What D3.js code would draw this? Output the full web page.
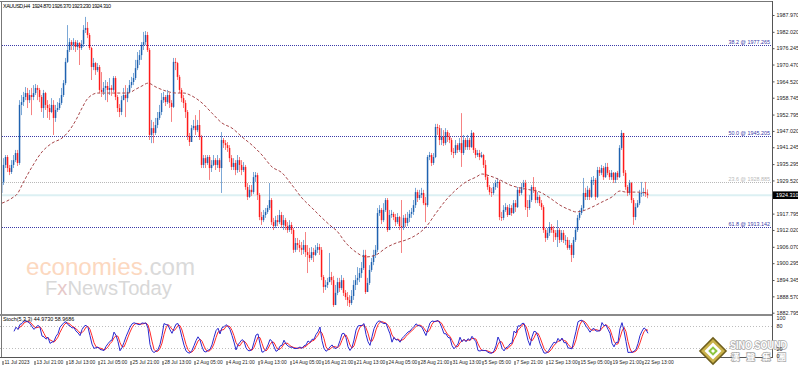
<!DOCTYPE html>
<html>
<head>
<meta charset="utf-8">
<script src="https://cdnjs.cloudflare.com/ajax/libs/d3/7.8.5/d3.min.js"></script>
<style>
  body { margin: 0; background: #fff; }
  svg { display: block; font-family: "Liberation Sans", Arial, sans-serif; }
</style>
</head>
<body>
<svg width="798" height="372"></svg>
<script>
// ---- data (XAUUSD H4) ----
const headerText = 'XAUUSD,H4  1924.870 1926.370 1923.230 1924.310';
const stochText = 'Stoch(5,3,3) 44.9730 58.9686';
const firstOpen = 1925.1;

const closes = [1929.0,1935.0,1937.8,1933.9,1932.5,1935.0,1936.7,1939.2,1935.7,1956.2,
1957.2,1959.0,1960.4,1957.9,1959.7,1959.0,1960.4,1962.2,1961.5,1959.0,
1955.1,1960.4,1956.2,1955.1,1953.7,1956.2,1951.6,1954.4,1955.1,1956.9,
1959.7,1963.9,1971.4,1975.6,1978.4,1977.4,1978.4,1976.7,1978.1,1976.3,
1977.7,1982.7,1983.4,1980.9,1976.3,1969.6,1971.0,1968.5,1969.6,1961.5,
1960.8,1962.2,1962.9,1961.5,1962.2,1961.5,1965.7,1959.0,1955.1,1953.7,
1957.9,1959.7,1958.6,1960.8,1963.2,1964.3,1965.7,1969.2,1972.1,1973.8,
1977.4,1978.4,1980.9,1975.6,1945.6,1948.0,1946.3,1949.1,1951.6,1953.7,
1957.9,1959.0,1957.2,1959.7,1956.9,1955.5,1971.4,1971.0,1966.1,1961.5,
1958.6,1956.9,1953.7,1945.2,1943.1,1948.0,1948.8,1947.3,1949.1,1944.9,
1935.0,1937.4,1935.7,1937.8,1933.9,1935.0,1936.7,1935.0,1936.7,1933.9,
1943.8,1942.7,1942.0,1941.0,1937.4,1934.3,1935.7,1933.2,1936.7,1935.0,
1933.2,1934.3,1927.2,1923.7,1926.2,1925.4,1930.7,1931.4,1924.4,1916.6,
1915.5,1917.3,1918.4,1919.8,1922.6,1914.8,1913.4,1915.5,1914.8,1917.3,
1913.8,1915.5,1913.4,1912.0,1913.8,1912.0,1905.0,1907.4,1906.7,1905.7,
1905.0,1906.7,1904.2,1903.2,1902.1,1904.2,1903.2,1905.0,1906.0,1905.0,
1895.4,1891.9,1892.6,1893.6,1895.4,1894.3,1885.5,1889.8,1893.6,1891.5,
1894.3,1889.8,1888.3,1887.3,1886.2,1888.7,1892.6,1894.3,1895.1,1896.8,
1898.6,1903.2,1890.1,1893.3,1897.9,1900.7,1903.2,1905.0,1918.0,1919.1,
1915.5,1919.1,1922.6,1912.0,1917.3,1917.7,1916.6,1914.8,1916.6,1913.4,
1913.1,1916.3,1914.5,1916.3,1917.7,1918.4,1920.8,1925.4,1923.3,1924.4,
1925.1,1921.5,1920.8,1937.8,1938.5,1935.7,1937.8,1948.4,1948.0,1943.8,
1944.9,1942.7,1946.6,1944.9,1943.8,1939.6,1939.2,1942.0,1940.3,1942.7,
1939.2,1943.8,1941.3,1943.8,1941.3,1946.3,1940.3,1938.5,1939.2,1937.8,
1938.5,1935.0,1930.7,1927.2,1925.4,1925.1,1927.2,1928.6,1929.0,1916.6,
1916.3,1919.1,1920.1,1917.3,1919.8,1918.0,1921.5,1920.1,1926.2,1925.1,
1927.2,1928.6,1920.1,1919.8,1922.6,1927.2,1926.2,1922.6,1923.7,1921.5,
1920.1,1912.0,1909.2,1911.0,1913.1,1912.0,1911.0,1909.5,1912.0,1908.5,
1911.0,1908.5,1908.5,1905.7,1906.7,1903.2,1908.5,1912.0,1916.3,1918.0,
1919.8,1925.1,1923.7,1926.2,1923.7,1929.7,1929.7,1923.7,1933.2,1932.2,
1933.9,1930.7,1934.3,1932.2,1930.7,1932.2,1929.7,1932.2,1930.7,1941.0,
1946.3,1932.2,1927.2,1925.1,1928.6,1922.6,1916.6,1920.1,1921.5,1925.1,
1925.1,1925.4,1924.87,1924.31];

const highs = [1930.4,1937.4,1938.5,1938.5,1935.0,1936.7,1938.5,1940.3,1940.3,1957.9,
1959.7,1960.8,1962.5,1962.2,1961.5,1962.2,1963.2,1963.6,1963.2,1962.2,
1959.7,1961.5,1960.8,1957.9,1956.5,1958.6,1957.9,1956.2,1957.2,1958.6,
1962.2,1965.0,1972.8,1984.4,1979.8,1979.1,1979.8,1979.1,1979.1,1978.4,
1979.1,1984.4,1987.3,1985.5,1981.6,1976.7,1972.8,1971.4,1971.0,1970.3,
1967.8,1964.3,1965.0,1964.3,1965.7,1963.2,1966.4,1966.4,1959.7,1956.5,
1959.4,1962.2,1963.2,1962.2,1965.0,1966.1,1967.5,1972.1,1974.9,1975.6,
1978.4,1982.0,1982.3,1982.0,1976.3,1950.9,1950.2,1951.6,1953.7,1956.2,
1960.4,1960.8,1959.7,1961.5,1960.4,1957.9,1972.8,1972.8,1971.4,1966.8,
1962.2,1959.7,1957.9,1954.4,1946.3,1949.1,1950.9,1952.6,1950.9,1954.4,
1945.6,1938.5,1938.5,1938.5,1938.5,1936.7,1938.5,1937.4,1938.5,1937.4,
1946.6,1944.5,1943.8,1943.1,1942.0,1938.5,1937.4,1936.7,1938.5,1937.8,
1936.7,1936.0,1935.0,1928.6,1927.9,1927.9,1932.5,1932.5,1932.2,1925.1,
1918.4,1919.1,1919.8,1920.8,1928.6,1923.3,1916.3,1917.0,1917.3,1919.1,
1918.4,1917.3,1916.3,1914.8,1915.5,1914.8,1912.7,1909.2,1909.2,1908.5,
1907.8,1908.5,1911.3,1906.7,1905.7,1906.0,1905.7,1906.7,1907.4,1907.1,
1906.0,1896.1,1894.3,1895.1,1903.9,1897.2,1895.8,1892.6,1895.1,1895.1,
1896.1,1895.1,1890.8,1890.1,1889.0,1890.8,1894.3,1896.1,1898.9,1898.6,
1900.7,1905.0,1905.0,1895.1,1899.6,1902.1,1905.0,1906.7,1919.8,1920.8,
1919.8,1921.5,1923.3,1923.3,1919.1,1919.1,1918.4,1917.7,1918.0,1917.0,
1922.6,1917.3,1917.7,1918.4,1919.1,1919.8,1922.6,1926.9,1926.2,1926.2,
1926.9,1926.2,1923.7,1938.5,1939.6,1939.2,1939.2,1949.5,1949.5,1949.1,
1948.0,1947.3,1948.0,1947.3,1946.3,1944.5,1941.0,1943.8,1942.7,1944.5,
1953.3,1945.6,1944.5,1945.6,1944.5,1947.3,1946.6,1941.0,1940.3,1940.3,
1939.6,1938.9,1936.7,1931.4,1927.9,1926.9,1928.6,1929.7,1930.4,1929.7,
1918.4,1920.8,1921.5,1920.8,1921.2,1920.8,1922.6,1922.6,1927.2,1926.9,
1928.6,1929.7,1929.7,1922.6,1924.4,1927.9,1930.7,1927.2,1925.4,1924.4,
1922.6,1920.8,1912.7,1912.7,1914.8,1914.1,1913.4,1912.0,1915.5,1912.7,
1912.0,1912.0,1910.2,1909.5,1908.5,1907.4,1909.5,1913.1,1917.3,1919.1,
1920.8,1930.4,1926.9,1927.6,1926.9,1930.7,1931.1,1930.4,1934.3,1934.3,
1935.0,1934.6,1935.7,1935.7,1933.2,1933.2,1932.5,1932.5,1932.9,1942.0,
1947.3,1946.3,1933.2,1927.9,1929.7,1929.0,1923.3,1921.5,1922.6,1926.2,
1929.0,1926.9,1929.0,1926.37];

const lows = [1924.0,1927.9,1933.9,1932.5,1931.4,1931.8,1933.9,1936.0,1934.6,1935.0,
1952.6,1955.8,1957.9,1955.1,1956.9,1952.6,1957.9,1959.7,1957.9,1957.2,
1953.7,1951.6,1954.4,1951.6,1950.9,1953.3,1945.6,1950.2,1953.7,1954.4,
1956.2,1959.0,1963.2,1971.0,1974.9,1975.6,1975.6,1974.9,1975.6,1970.3,
1975.6,1976.7,1981.6,1979.8,1975.6,1965.0,1968.5,1966.8,1967.8,1960.4,
1959.0,1959.7,1957.9,1957.2,1959.7,1959.4,1960.8,1957.9,1953.7,1951.9,
1952.6,1957.9,1951.9,1957.2,1960.4,1962.2,1963.2,1965.0,1968.5,1970.3,
1972.1,1975.6,1977.4,1974.9,1943.8,1942.7,1942.7,1945.6,1948.0,1950.9,
1952.6,1956.9,1955.8,1956.5,1955.1,1950.2,1955.1,1968.5,1965.0,1960.4,
1957.2,1955.1,1951.6,1943.8,1941.7,1943.8,1947.3,1945.6,1946.6,1943.8,
1933.9,1933.9,1933.9,1935.0,1929.7,1932.5,1934.6,1933.2,1933.9,1932.5,
1925.1,1941.0,1940.3,1939.6,1936.0,1933.2,1933.2,1931.4,1932.2,1932.5,
1931.4,1932.5,1926.2,1922.6,1923.3,1924.0,1924.7,1929.0,1922.6,1915.5,
1913.8,1914.8,1916.3,1917.7,1919.1,1913.8,1912.0,1912.7,1913.4,1914.1,
1912.7,1912.0,1912.0,1911.0,1911.3,1910.6,1903.9,1904.2,1905.0,1904.2,
1903.2,1903.5,1902.5,1896.8,1900.7,1901.4,1900.7,1902.8,1903.9,1903.2,
1894.3,1889.8,1890.8,1891.5,1893.6,1892.6,1884.8,1887.3,1889.0,1890.1,
1890.8,1888.7,1887.3,1885.2,1884.8,1885.5,1887.3,1890.8,1892.6,1893.6,
1895.1,1897.9,1889.4,1890.1,1892.6,1897.2,1899.6,1902.1,1904.2,1917.0,
1914.1,1914.8,1918.4,1911.3,1912.0,1916.3,1915.5,1913.4,1914.1,1912.0,
1903.9,1912.0,1913.1,1913.4,1914.8,1916.3,1917.3,1919.8,1921.9,1922.6,
1923.3,1920.8,1914.8,1920.1,1936.7,1934.6,1935.0,1937.4,1945.6,1942.0,
1942.0,1941.7,1942.0,1943.1,1942.7,1938.5,1937.4,1938.5,1939.2,1939.6,
1934.3,1938.5,1940.3,1940.3,1940.3,1941.0,1939.2,1937.4,1937.8,1936.7,
1937.4,1933.9,1929.7,1926.2,1924.4,1923.7,1924.4,1926.2,1926.9,1915.5,
1915.2,1915.5,1918.4,1916.6,1917.3,1917.0,1917.7,1918.4,1919.8,1924.0,
1924.4,1926.2,1919.1,1916.6,1919.1,1921.9,1925.1,1921.5,1921.5,1920.5,
1919.1,1911.0,1907.8,1908.5,1909.9,1911.0,1907.8,1908.5,1906.0,1907.4,
1907.8,1907.4,1906.7,1905.0,1905.0,1900.7,1902.1,1907.8,1911.3,1915.5,
1917.3,1919.1,1922.6,1922.6,1922.6,1923.3,1927.9,1922.6,1923.3,1931.1,
1931.4,1929.7,1930.4,1931.4,1929.7,1929.7,1928.6,1928.6,1929.7,1930.4,
1940.3,1931.1,1926.2,1924.0,1924.4,1921.5,1913.8,1915.5,1919.8,1920.8,
1923.7,1924.0,1923.7,1923.23];

// moving average (dashed line), read at these bar numbers
const maBars = [0,5,8,10,15,20,25,30,33,37,40,43,48,53,58,63,67,70,73,77,
82,87,91,94,100,105,110,115,120,125,130,135,140,145,150,155,160,165,167,172,
177,182,187,192,197,202,207,212,217,222,227,232,237,240,244,249,254,259,264,269,
274,279,284,287,290,295,300,305,309,312,317,323];
const maValues = [1921.5,1923.3,1925.1,1927.9,1934.3,1939.6,1942.7,1944.5,1946.6,1950.9,
1955.1,1958.6,1960.4,1960.4,1960.4,1960.4,1961.8,1962.9,1963.9,1962.5,
1961.1,1960.4,1960.4,1959.7,1956.9,1953.3,1949.8,1948.0,1944.9,1942.0,
1938.5,1934.3,1932.2,1927.9,1923.3,1919.8,1916.3,1913.1,1912.0,1907.4,
1904.2,1902.5,1903.2,1905.7,1907.4,1908.5,1910.2,1913.1,1918.0,1922.6,
1926.2,1929.0,1930.7,1931.8,1931.1,1929.7,1927.9,1926.9,1926.2,1925.4,
1923.3,1920.8,1919.1,1918.4,1918.7,1920.1,1921.9,1923.7,1925.8,1925.4,
1925.4,1925.1];

const fibNames = ['38.2', '50.0', '23.6', '61.8'];
const fibValues = [1977.265, 1945.205, 1928.885, 1913.142];
const lastPrice = 1924.31;

const priceTicks = [1987.970,1982.020,1976.245,1970.470,1964.520,1958.745,1952.795,
1947.020,1941.245,1935.295,1929.520,1917.795,1912.020,1906.070,1900.295,1894.345,
1888.570,1882.795];

const dateBars = [0,16,32,48,64,80,96,112,128,144,160,176,192,208,224,240,256,272,288,304,320];
const dateLabels = ['11 Jul 2023','13 Jul 21:00','18 Jul 13:00','21 Jul 05:00','25 Jul 21:00',
'28 Jul 13:00','2 Aug 05:00','4 Aug 21:00','9 Aug 13:00','14 Aug 05:00','16 Aug 21:00',
'21 Aug 13:00','24 Aug 05:00','28 Aug 21:00','31 Aug 13:00','5 Sep 05:00','7 Sep 21:00',
'12 Sep 13:00','15 Sep 05:00','19 Sep 21:00','22 Sep 13:00'];

const stochLevels = [20, 80];
const stochTicks = [100, 80, 20, 0];

// ---- layout ----
const svg = d3.select('svg');
const width = +svg.attr('width');
const height = +svg.attr('height');
const plotRight = 772;
const mainTop = 1, mainBottom = 314;
const subTop = 316, subBottom = 357;
const fontSize = 5.4;
const axisFont = '"Liberation Sans", Arial, sans-serif';

svg.append('rect').attr('width', width).attr('height', height).attr('fill', '#fff');

const n = closes.length;
const bars = closes.map((c, i) => {
  const o = i === 0 ? firstOpen : closes[i - 1];
  return { i, o, c, h: Math.max(highs[i], o, c), l: Math.min(lows[i], o, c) };
});

const xScale = d3.scaleLinear().domain([0, n - 1]).range([2, 2 + 2 * (n - 1)]);
const yScale = d3.scaleLinear().domain([1882.795, 1987.97]).range([312.7, 15]);

svg.append('clipPath').attr('id', 'mainClip')
  .append('rect').attr('x', 1).attr('y', mainTop).attr('width', plotRight - 1).attr('height', mainBottom - mainTop);

// watermark
const wm = svg.append('g');
const t1 = wm.append('text').attr('x', 26).attr('y', 275)
  .attr('font-size', 24.5).attr('textLength', 169).attr('lengthAdjust', 'spacingAndGlyphs');
t1.append('tspan').attr('fill', '#fcd8bf').text('economies');
t1.append('tspan').attr('fill', '#dadada').text('.com');
const t2 = wm.append('text').attr('x', 45).attr('y', 295)
  .attr('font-size', 20).attr('textLength', 127).attr('lengthAdjust', 'spacingAndGlyphs')
  .attr('fill', '#d8d8d8');
t2.append('tspan').text('F');
t2.append('tspan').attr('fill', '#e6c8c8').text('x');
t2.append('tspan').text('NewsToday');

const main = svg.append('g').attr('clip-path', 'url(#mainClip)');

// current price line
main.append('line')
  .attr('x1', 0).attr('x2', plotRight)
  .attr('y1', yScale(lastPrice)).attr('y2', yScale(lastPrice))
  .attr('stroke', '#dcf0f3').attr('stroke-width', 2);

// fibonacci levels
fibValues.forEach((v, k) => {
  const col = fibNames[k] === '23.6' ? '#b8b8b8' : '#3a3aa8';
  main.append('line')
    .attr('x1', 0).attr('x2', plotRight)
    .attr('y1', Math.round(yScale(v)) + 0.5).attr('y2', Math.round(yScale(v)) + 0.5)
    .attr('stroke', col).attr('stroke-dasharray', '1,1');
  main.append('text')
    .attr('x', plotRight - 2).attr('y', yScale(v) - 1.2)
    .attr('text-anchor', 'end').attr('font-size', fontSize).attr('fill', col)
    .text(`${fibNames[k]} @ ${v.toFixed(3)}`);
});

// candles
const candle = main.selectAll('g.candle').data(bars).enter().append('g');
candle.append('line')
  .attr('x1', d => xScale(d.i) - 0.5).attr('x2', d => xScale(d.i) - 0.5)
  .attr('y1', d => yScale(d.h)).attr('y2', d => yScale(d.l))
  .attr('stroke', d => d.c >= d.o ? '#7ca8d6' : '#f68282').attr('stroke-width', 1);
candle.append('rect')
  .attr('x', d => xScale(d.i) - 1.2).attr('width', 1.5)
  .attr('y', d => yScale(Math.max(d.o, d.c)))
  .attr('height', d => Math.max(0.8, Math.abs(yScale(d.o) - yScale(d.c))))
  .attr('fill', d => d.c >= d.o ? '#1f62b0' : '#ff1a1a');

// moving average
const maPoints = maBars.map((b, k) => ({ b, v: maValues[k] }));
main.append('path').datum(maPoints)
  .attr('fill', 'none').attr('stroke', '#a8474a').attr('stroke-width', 1)
  .attr('stroke-dasharray', '3,2')
  .attr('d', d3.line().x(d => xScale(d.b)).y(d => yScale(d.v)).curve(d3.curveMonotoneX));

// header
svg.append('text').attr('x', 3).attr('y', 8).attr('font-size', fontSize).attr('fill', '#000')
  .attr('textLength', 108).attr('lengthAdjust', 'spacing')
  .attr('xml:space', 'preserve').text(headerText);

// ---- stochastic panel ----
const kPeriod = 5, slowing = 3, dPeriod = 3;
const stMain = bars.map((b, i) => {
  if (i < kPeriod + slowing - 2) return null;
  let num = 0, den = 0;
  for (let j = i - slowing + 1; j <= i; j++) {
    const w = bars.slice(j - kPeriod + 1, j + 1);
    const ll = d3.min(w, d => d.l), hh = d3.max(w, d => d.h);
    num += bars[j].c - ll; den += hh - ll;
  }
  return den ? 100 * num / den : 50;
});
const stSignal = stMain.map((v, i) => {
  const w = stMain.slice(Math.max(0, i - dPeriod + 1), i + 1);
  return w.length === dPeriod && w.every(q => q !== null) ? d3.mean(w) : null;
});

const ySub = d3.scaleLinear().domain([0, 100]).range([subBottom - 1, subTop + 2]);
const sub = svg.append('g');
stochLevels.forEach(l => {
  sub.append('line').attr('x1', 0).attr('x2', plotRight)
    .attr('y1', Math.round(ySub(l)) + 0.5).attr('y2', Math.round(ySub(l)) + 0.5)
    .attr('stroke', '#bdbdbd').attr('stroke-dasharray', '1,2');
});
const stLine = d3.line().defined(d => d !== null).x((d, i) => xScale(i)).y(d => ySub(d));
sub.append('path').datum(stSignal).attr('fill', 'none').attr('stroke', '#ff2a2a').attr('stroke-width', 1).attr('d', stLine);
sub.append('path').datum(stMain).attr('fill', 'none').attr('stroke', '#2a2ad0').attr('stroke-width', 1).attr('d', stLine);
svg.append('text').attr('x', 3).attr('y', subTop + 5).attr('font-size', fontSize).attr('fill', '#000').text(stochText);

// ---- frames ----
svg.append('line').attr('x1', 0).attr('x2', plotRight).attr('y1', 1.5).attr('y2', 1.5).attr('stroke', '#777');
svg.append('line').attr('x1', 1.5).attr('x2', 1.5).attr('y1', 1).attr('y2', subBottom).attr('stroke', '#777');
svg.append('rect').attr('x', 0).attr('y', mainBottom).attr('width', plotRight).attr('height', 2).attr('fill', '#8a8a8a');
svg.append('line').attr('x1', 0).attr('x2', plotRight).attr('y1', subBottom + 0.5).attr('y2', subBottom + 0.5).attr('stroke', '#555');
svg.append('line').attr('x1', plotRight + 0.5).attr('x2', plotRight + 0.5).attr('y1', 1).attr('y2', subBottom + 1).attr('stroke', '#555');

// right price axis
const yAxis = d3.axisRight(yScale).tickValues(priceTicks).tickSize(2).tickPadding(2)
  .tickFormat(d3.format('.3f'));
const yAxisG = svg.append('g').attr('transform', `translate(${plotRight + 0.5},0)`).call(yAxis);
yAxisG.select('.domain').remove();
yAxisG.selectAll('text').attr('font-size', fontSize).attr('fill', '#222').attr('font-family', axisFont);
yAxisG.selectAll('line').attr('stroke', '#555');

// last price box
svg.append('rect').attr('x', plotRight + 1).attr('y', yScale(lastPrice) - 3.8)
  .attr('width', 25).attr('height', 7.6).attr('fill', '#000');
svg.append('text').attr('x', plotRight + 4).attr('y', yScale(lastPrice) + 2)
  .attr('font-size', fontSize).attr('fill', '#fff').text(lastPrice.toFixed(3));

// ---- SINO SOUND logo (drawn before the stoch scale so the numbers stay on top) ----
const logo = svg.append('g').attr('transform', 'translate(713,351)');
logo.append('rect').attr('x', -10).attr('y', -10).attr('width', 20).attr('height', 20)
  .attr('transform', 'rotate(45)').attr('fill', '#6f5f1c');
logo.append('rect').attr('x', -8.5).attr('y', -8.5).attr('width', 17).attr('height', 17)
  .attr('transform', 'rotate(45)').attr('fill', '#c9b24a');
logo.append('rect').attr('x', -6).attr('y', -6).attr('width', 12).attr('height', 12)
  .attr('transform', 'rotate(45)').attr('fill', '#fff');
logo.append('rect').attr('x', -3.4).attr('y', -3.4).attr('width', 6.8).attr('height', 6.8)
  .attr('transform', 'rotate(45)').attr('fill', '#8cc63f');
logo.append('rect').attr('x', -1.4).attr('y', -1.4).attr('width', 2.8).attr('height', 2.8)
  .attr('transform', 'rotate(45)').attr('fill', '#fff');
svg.append('text').attr('x', 730).attr('y', 348.5).attr('font-size', 10).attr('font-weight', 'bold')
  .attr('fill', '#fff').attr('stroke', '#a8a8a8').attr('stroke-width', 1.5).attr('paint-order', 'stroke')
  .attr('textLength', 57).attr('lengthAdjust', 'spacingAndGlyphs').text('SINO SOUND');
svg.append('text').attr('x', 731).attr('y', 360).attr('font-size', 8.5).attr('font-weight', 'bold')
  .attr('font-family', '"Noto Sans CJK TC", sans-serif')
  .attr('fill', '#fff').attr('stroke', '#a8a8a8').attr('stroke-width', 1.5).attr('paint-order', 'stroke')
  .attr('textLength', 55).attr('lengthAdjust', 'spacing').text('漢聲集團');

// stoch scale
const subAxis = d3.axisRight(ySub).tickValues(stochTicks).tickSize(0).tickPadding(4).tickFormat(d3.format('d'));
const subAxisG = svg.append('g').attr('transform', `translate(${plotRight + 0.5},0)`).call(subAxis);
subAxisG.select('.domain').remove();
subAxisG.selectAll('text').attr('font-size', fontSize).attr('fill', '#222').attr('font-family', axisFont);

// time axis
const xAxis = d3.axisBottom(xScale).tickValues(dateBars).tickSize(4).tickPadding(-1)
  .tickFormat((d, k) => dateLabels[k]);
const xAxisG = svg.append('g').attr('transform', `translate(0,${subBottom + 4})`).call(xAxis);
xAxisG.select('.domain').remove();
xAxisG.selectAll('line').attr('stroke', '#444').attr('transform', 'translate(0.5,0)');
xAxisG.selectAll('text').attr('font-size', 4.9).attr('fill', '#222')
  .attr('text-anchor', 'start').attr('dx', 2).attr('dy', '-0.1em')
  .attr('font-family', axisFont);
</script>
</body>
</html>
